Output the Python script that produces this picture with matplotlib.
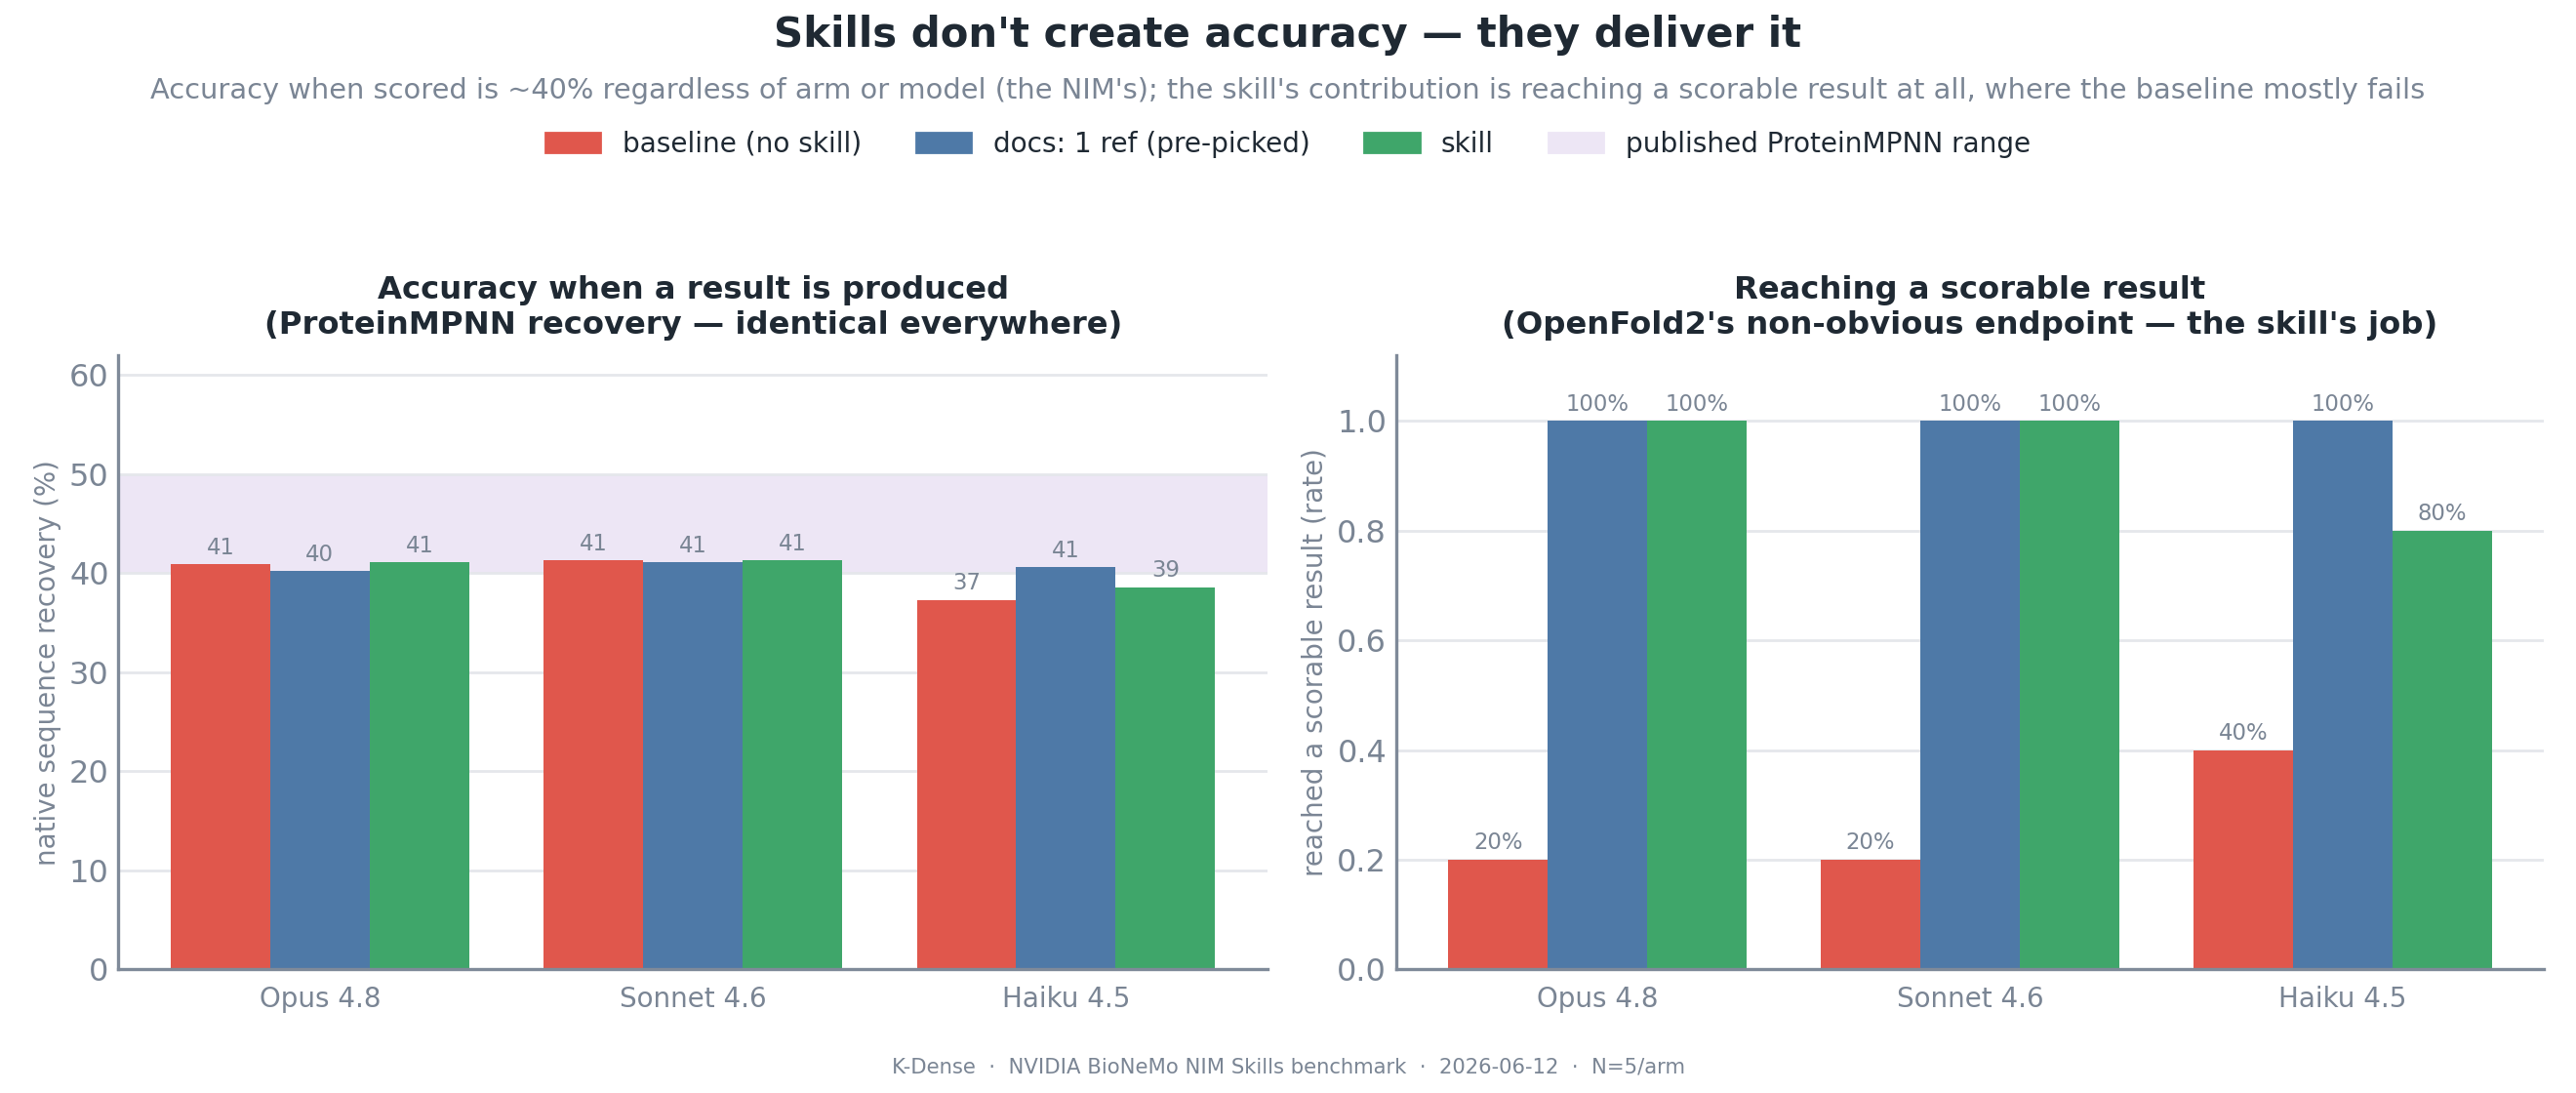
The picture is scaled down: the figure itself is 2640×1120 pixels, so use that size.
import matplotlib
matplotlib.use("Agg")
import matplotlib.pyplot as plt
import numpy as np
from matplotlib.patches import Patch

# ---- data ----
models = ["Opus 4.8", "Sonnet 4.6", "Haiku 4.5"]
arms = ["baseline (no skill)", "docs: 1 ref (pre-picked)", "skill"]
recovery_baseline = [40.9, 41.3, 37.3]
recovery_docs = [40.2, 41.1, 40.6]
recovery_skill = [41.1, 41.3, 38.6]
reach_baseline = [0.2, 0.2, 0.4]
reach_docs = [1.0, 1.0, 1.0]
reach_skill = [1.0, 1.0, 0.8]
published_range = (40, 50)

colors = ["#e0574c", "#4e79a7", "#3fa66a"]
band_color = "#ede6f5"
grid_c = "#e5e7eb"
spine_c = "#7f8a99"
text_c = "#7a8594"
dark = "#1f2933"

plt.rcParams['font.family'] = ['DejaVu Sans']

fig = plt.figure(figsize=(13.2, 5.6), dpi=200)
ax1 = fig.add_axes([0.046, 0.113, 0.446, 0.562])
ax2 = fig.add_axes([0.542, 0.113, 0.4455, 0.562])

x = np.arange(len(models))
w = 0.8 / 3

def style(ax):
    for s in ["top", "right"]:
        ax.spines[s].set_visible(False)
    for s in ["left", "bottom"]:
        ax.spines[s].set_color(spine_c)
        ax.spines[s].set_linewidth(1.2)
    ax.tick_params(axis="both", length=0, colors=text_c)
    ax.tick_params(axis="y", labelsize=11.5, pad=3.5)
    ax.tick_params(axis="x", labelsize=10, pad=6)
    ax.yaxis.grid(True, color=grid_c, linewidth=1.0)
    ax.set_axisbelow(True)
    ax.set_xticks(x)
    ax.set_xticklabels(models)

# left panel
ax1.axhspan(published_range[0], published_range[1], color=band_color, zorder=0.5, lw=0)
for i, vals in enumerate([recovery_baseline, recovery_docs, recovery_skill]):
    bars = ax1.bar(x + (i - 1) * w, vals, w, color=colors[i], zorder=2)
    ax1.bar_label(bars, labels=[f"{v:.0f}" for v in vals], padding=2, fontsize=8.2, color=text_c)
style(ax1)
ax1.set_ylim(0, 62)
ax1.set_yticks([0, 10, 20, 30, 40, 50, 60])
ax1.set_ylabel("native sequence recovery (%)", color=text_c, fontsize=10, labelpad=3)
ax1.set_title("Accuracy when a result is produced\n(ProteinMPNN recovery — identical everywhere)",
              fontsize=11.6, fontweight="bold", color=dark, pad=8)

# right panel
for i, vals in enumerate([reach_baseline, reach_docs, reach_skill]):
    bars = ax2.bar(x + (i - 1) * w, vals, w, color=colors[i], zorder=2)
    ax2.bar_label(bars, labels=[f"{v*100:.0f}%" for v in vals], padding=2, fontsize=8.2, color=text_c)
style(ax2)
ax2.set_ylim(0, 1.12)
ax2.set_yticks([0, 0.2, 0.4, 0.6, 0.8, 1.0])
ax2.set_yticklabels([f"{v:.1f}" for v in [0, 0.2, 0.4, 0.6, 0.8, 1.0]])
ax2.set_ylabel("reached a scorable result (rate)", color=text_c, fontsize=10, labelpad=3)
ax2.set_title("Reaching a scorable result\n(OpenFold2's non-obvious endpoint — the skill's job)",
              fontsize=11.6, fontweight="bold", color=dark, pad=8)

fig.text(0.5, 0.968, "Skills don't create accuracy — they deliver it", ha="center", va="center",
         fontsize=15.1, fontweight="bold", color=dark)
fig.text(0.5, 0.917, "Accuracy when scored is ~40% regardless of arm or model (the NIM's); the skill's contribution is reaching a scorable result at all, where the baseline mostly fails",
         ha="center", va="center", fontsize=10.4, color=text_c)

handles = [Patch(color=c) for c in colors] + [Patch(color=band_color)]
labels = arms + ["published ProteinMPNN range"]
fig.legend(handles, labels, loc="center", bbox_to_anchor=(0.5, 0.868), ncol=4, frameon=False,
           fontsize=10.1, labelcolor=dark)

fig.text(0.5, 0.024, "K-Dense  ·  NVIDIA BioNeMo NIM Skills benchmark  ·  2026-06-12  ·  N=5/arm",
         ha="center", va="center", fontsize=7.6, color=text_c)

fig.savefig("out.png", dpi=200)
